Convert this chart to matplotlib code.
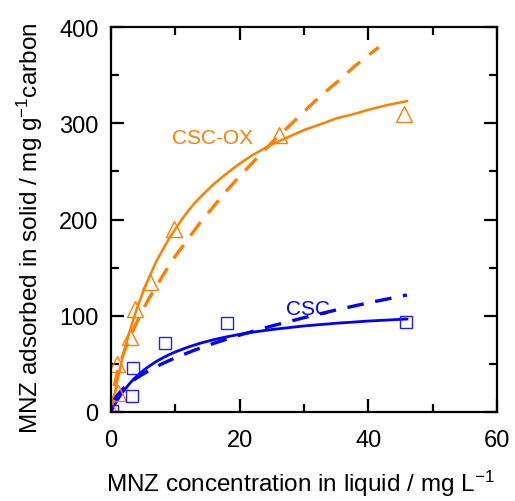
import numpy as np
import matplotlib
matplotlib.use('Agg')
import matplotlib.pyplot as plt

plt.rcParams['font.family'] = ['Liberation Sans', 'DejaVu Sans']
plt.rcParams['mathtext.default'] = 'regular'

ox_c = [0.1, 0.9, 1.1, 2.9, 3.7, 6.0, 9.8, 26.1, 45.5]
ox_q = [1, 50, 20, 78, 107, 135, 190, 288, 310]
csc_c = [0.1, 3.2, 3.4, 8.4, 18.0, 45.9]
csc_q = [1, 17, 46, 72, 92, 94]

# Fitted curves
ox_fit_c = [0, 0.5, 1, 1.5, 2, 3, 4, 5, 6, 7, 8, 9, 10, 11, 12, 13, 14, 16,
            18, 20, 22, 25, 28, 30, 33, 35, 38, 40, 43, 46]
ox_lang_q = [0, 17, 33, 48, 62, 86, 107, 125, 141, 156, 168, 180, 190, 200,
             209, 217, 224, 237, 248, 258, 267, 278, 287, 293, 300, 305, 310,
             314, 319, 323]
ox_fr_c = [0.5, 1, 1.5, 2, 3, 4, 5, 6, 7, 8, 9, 10, 11, 12, 13, 14, 16, 18,
           20, 22, 25, 27.5, 30, 32.5, 35, 38, 41.6]
ox_fr_q = [27, 41, 52, 62, 78, 93, 107, 119, 130, 141, 152, 162, 171, 180,
           189, 198, 214, 230, 245, 259, 280, 296, 312, 328, 342, 360, 379]

csc_fit_c = [0, 0.25, 0.5, 0.75, 1, 1.5, 2, 3, 4, 5, 6, 7, 8, 9, 10, 12, 14,
             16, 18, 20, 22, 25, 30, 35, 40, 46]
csc_lang_q = [0, 3.3, 6.5, 9.5, 12.3, 17.5, 22.2, 30.4, 37.2, 43, 47.9, 52.3,
              56.1, 59.4, 62.4, 67.5, 71.7, 75.2, 78.1, 80.7, 82.9, 85.7, 89.4,
              92.2, 94.5, 96.6]
csc_fr_c = [0.5, 1, 2, 3, 4, 6, 8, 10, 13, 16, 20, 25, 30, 35, 40, 46]
csc_fr_q = [12.4, 17.6, 25, 30.7, 35.4, 43.5, 50.3, 56.3, 64.3, 71.4, 79.9,
            89.4, 98, 106, 113.4, 121.6]

orange = '#FF8000'
blue = '#0000FF'

fig = plt.figure(figsize=(5.15, 5.02), dpi=100)
ax = fig.add_axes([0.2155, 0.1773, 0.7495, 0.7669])

ax.plot(ox_fit_c, ox_lang_q, color=orange, lw=1.8)
ax.plot(ox_fr_c, ox_fr_q, color=orange, lw=2.4, dashes=(5, 3.5))
ax.plot(csc_fit_c, csc_lang_q, color=blue, lw=2.0)
ax.plot(csc_fr_c, csc_fr_q, color=blue, lw=2.4, dashes=(5, 3.5))

ax.plot(ox_c, ox_q, linestyle='none', marker='^', markersize=11,
        markerfacecolor='none', markeredgecolor=orange, markeredgewidth=1.0)
ax.plot(csc_c, csc_q, linestyle='none', marker='s', markersize=8,
        markerfacecolor='none', markeredgecolor='#2020FF', markeredgewidth=1.0)

ax.text(15.8, 285, 'CSC-OX', color=orange, fontsize=15, ha='center', va='center')
ax.text(30.7, 108, 'CSC', color=blue, fontsize=15, ha='center', va='center')

ax.set_xlim(0, 60)
ax.set_ylim(0, 400)
ax.set_xticks([0, 20, 40, 60])
ax.set_xticks([10, 30, 50], minor=True)
ax.set_yticks([0, 100, 200, 300, 400])
ax.set_yticks([50, 150, 250, 350], minor=True)

for s in ax.spines.values():
    s.set_linewidth(1.6)
ax.tick_params(which='both', direction='in', top=True, right=True, width=1.6)
ax.tick_params(which='major', length=9.5, labelsize=17)
ax.tick_params(which='minor', length=6)
ax.tick_params(axis='x', pad=12)
ax.tick_params(axis='y', pad=9)

ax.set_xlabel('MNZ concentration in liquid / mg L$^{-1}$', fontsize=17.5, labelpad=12)
ax.set_ylabel('MNZ adsorbed in solid / mg g$^{-1}$carbon', fontsize=17.5, labelpad=10)
ax.xaxis.label.set_x(0.49)
ax.yaxis.label.set_y(0.48)

fig.savefig('out.png', dpi=100)
